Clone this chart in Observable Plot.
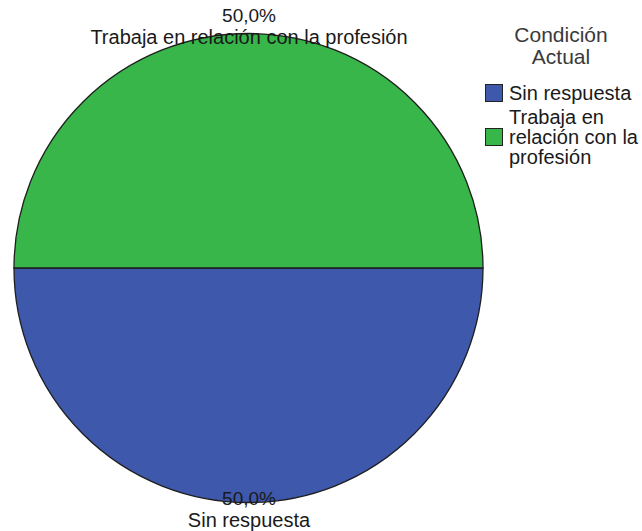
<!DOCTYPE html>
<html><head><meta charset="utf-8">
<script src="https://cdn.jsdelivr.net/npm/d3@7"></script>
<script src="https://cdn.jsdelivr.net/npm/@observablehq/plot@0.6"></script>
<style>
body{margin:0;background:#fff;font-family:"Liberation Sans",Arial,sans-serif;}
#wrap{position:relative;width:642px;height:531px;}
#legend{position:absolute;left:485px;top:24px;width:157px;color:#1a1a1a;}
#legend .title{text-align:center;width:152px;font-size:21px;line-height:22px;color:#3a3a3a;}
#legend .item{display:flex;align-items:center;}
#legend .sw{width:18px;height:18px;border:1px solid #222;box-sizing:border-box;flex:none;margin-right:6px;}
#legend .lab{font-size:20px;line-height:20px;white-space:nowrap;}
</style></head>
<body><div id="wrap"></div>
<script>
const categories = ["Sin respuesta", "Trabaja en relación con la profesión"];
const percents = [50.0, 50.0];
const percentLabels = ["50,0%", "50,0%"];
const colors = ["#3e58ac", "#38b64a"];
const legendTitle = ["Condición", "Actual"];
const legendLabels = [["Sin respuesta"], ["Trabaja en", "relación con la", "profesión"]];

const pie = d3.pie().sort(null).value(d => d.value)
  .startAngle(Math.PI / 2).endAngle(Math.PI / 2 + 2 * Math.PI);
const slices = pie(categories.map((c, i) => ({category: c, value: percents[i], label: percentLabels[i]})))
  .map(s => {
    const mid = (s.startAngle + s.endAngle) / 2;
    return {...s, category: s.data.category, label: s.data.label, lx: Math.sin(mid), ly: Math.cos(mid)};
  });

function pieMark(index, scales, values, dimensions) {
  const x = scales.x, y = scales.y;
  const cx = x(0), cy = y(0);
  const r = Math.abs(x(1) - x(0));
  const arc = d3.arc().innerRadius(0).outerRadius(r);
  const g = d3.create("svg:g").attr("transform", `translate(${cx},${cy})`);
  g.selectAll("path").data(slices).join("path")
    .attr("d", arc)
    .attr("fill", d => colors[categories.indexOf(d.category)])
    .attr("stroke", "#1e1e1e")
    .attr("stroke-width", 1.3);
  return g.node();
}

const topSlices = slices.filter(d => d.ly > 0);
const botSlices = slices.filter(d => d.ly <= 0);
const font = {fontSize: 19, fill: "#1a1a1a", fontFamily: "Liberation Sans, Arial, sans-serif"};

const chart = Plot.plot({
  width: 642, height: 531,
  margin: 0,
  x: {domain: [-1, 1], range: [14, 483], axis: null},
  y: {domain: [-1, 1], range: [503, 33], axis: null},
  marks: [
    pieMark,
    Plot.text(topSlices, {x: "lx", y: "ly", text: "label", dy: -18, ...font}),
    Plot.text(topSlices, {x: "lx", y: "ly", text: "category", dy: 4, ...font, fontSize: 20}),
    Plot.text(botSlices, {x: "lx", y: "ly", text: "label", dy: -5, ...font}),
    Plot.text(botSlices, {x: "lx", y: "ly", text: "category", dy: 17, ...font, fontSize: 20})
  ]
});
const wrap = document.getElementById("wrap");
wrap.appendChild(chart);

const lg = document.createElement("div");
lg.id = "legend";
lg.innerHTML = `<div class="title">${legendTitle.join("<br>")}</div>` +
  categories.map((c, i) => `<div class="item" style="margin-top:${i === 0 ? 15 : 4}px"><div class="sw" style="background:${colors[i]}"></div><div class="lab">${legendLabels[i].join("<br>")}</div></div>`).join("");
wrap.appendChild(lg);
</script>
</body></html>
